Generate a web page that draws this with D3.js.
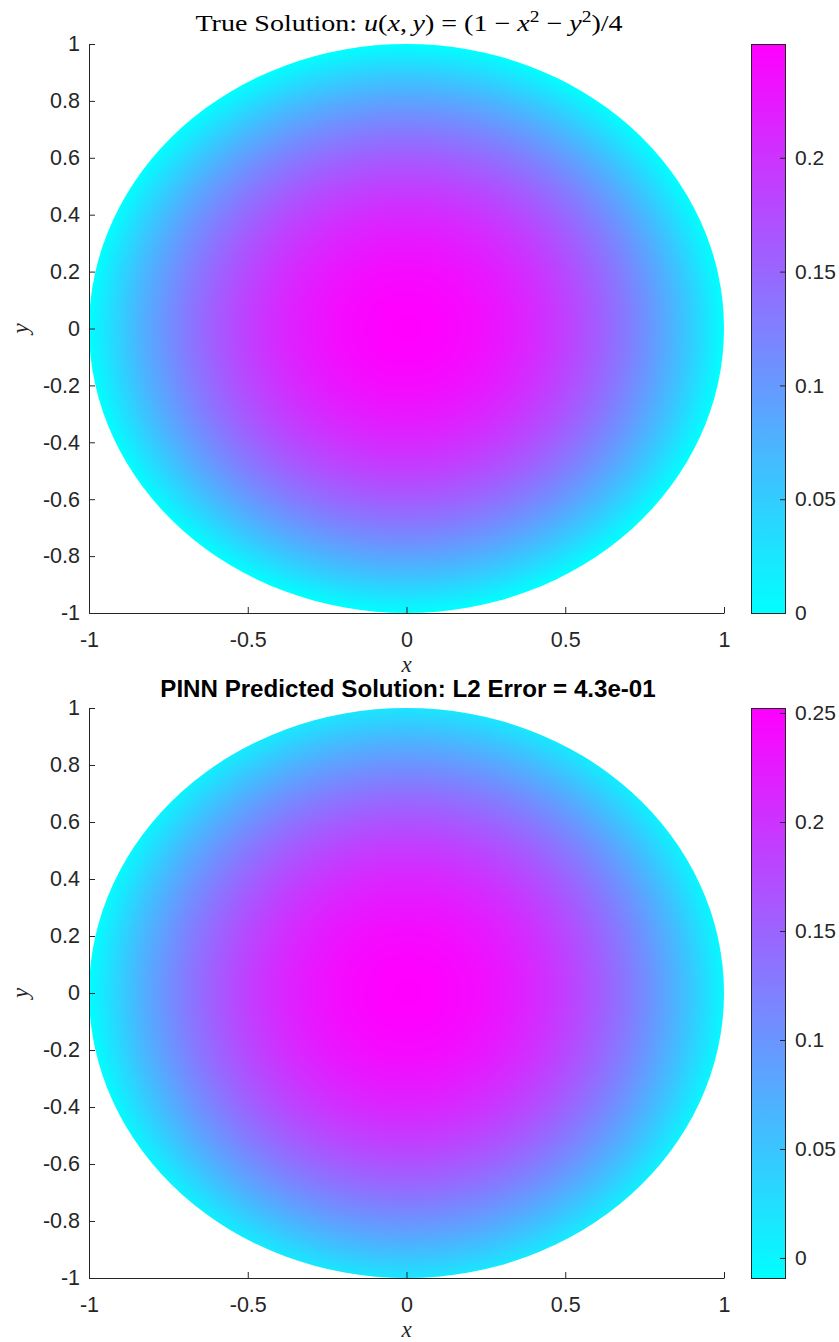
<!DOCTYPE html>
<html><head><meta charset="utf-8">
<script src="https://cdn.jsdelivr.net/npm/d3@7"></script>
<style>body{margin:0;background:#fff}svg{display:block}</style></head>
<body><svg id="chart" width="839" height="1342"></svg>
<script>
// ---------------- data ----------------
const xTicks = [-1, -0.5, 0, 0.5, 1];
const yTicks = [-1, -0.8, -0.6, -0.4, -0.2, 0, 0.2, 0.4, 0.6, 0.8, 1];
const gridX = [-1, -0.75, -0.5, -0.25, 0, 0.25, 0.5, 0.75, 1];
const gridY = [-1, -0.75, -0.5, -0.25, 0, 0.25, 0.5, 0.75, 1];
// rows follow gridY (y = -1 ... 1), columns follow gridX
const trueU = [
  [-0.25, -0.140625, -0.0625, -0.015625, 0, -0.015625, -0.0625, -0.140625, -0.25],
  [-0.140625, -0.03125, 0.046875, 0.09375, 0.109375, 0.09375, 0.046875, -0.03125, -0.140625],
  [-0.0625, 0.046875, 0.125, 0.171875, 0.1875, 0.171875, 0.125, 0.046875, -0.0625],
  [-0.015625, 0.09375, 0.171875, 0.21875, 0.234375, 0.21875, 0.171875, 0.09375, -0.015625],
  [0, 0.109375, 0.1875, 0.234375, 0.25, 0.234375, 0.1875, 0.109375, 0],
  [-0.015625, 0.09375, 0.171875, 0.21875, 0.234375, 0.21875, 0.171875, 0.09375, -0.015625],
  [-0.0625, 0.046875, 0.125, 0.171875, 0.1875, 0.171875, 0.125, 0.046875, -0.0625],
  [-0.140625, -0.03125, 0.046875, 0.09375, 0.109375, 0.09375, 0.046875, -0.03125, -0.140625],
  [-0.25, -0.140625, -0.0625, -0.015625, 0, -0.015625, -0.0625, -0.140625, -0.25]
];
const predU = [
  [-0.2442, -0.1298, -0.0481, 0.0010, 0.0173, 0.0014, -0.0465, -0.1261, -0.2377],
  [-0.1414, -0.0270, 0.0547, 0.1038, 0.1201, 0.1042, 0.0563, -0.0233, -0.1349],
  [-0.0680, 0.0464, 0.1281, 0.1772, 0.1935, 0.1776, 0.1297, 0.0501, -0.0615],
  [-0.0239, 0.0905, 0.1722, 0.2213, 0.2376, 0.2217, 0.1738, 0.0942, -0.0174],
  [-0.0092, 0.1052, 0.1869, 0.2360, 0.2523, 0.2364, 0.1885, 0.1089, -0.0027],
  [-0.0239, 0.0905, 0.1722, 0.2213, 0.2376, 0.2217, 0.1738, 0.0942, -0.0174],
  [-0.0680, 0.0464, 0.1281, 0.1772, 0.1935, 0.1776, 0.1297, 0.0501, -0.0615],
  [-0.1414, -0.0270, 0.0547, 0.1038, 0.1201, 0.1042, 0.0563, -0.0233, -0.1349],
  [-0.2442, -0.1298, -0.0481, 0.0010, 0.0173, 0.0014, -0.0465, -0.1261, -0.2377]
];
const trueRange = [0, 0.25];
const predRange = [-0.0092, 0.2523];
const trueCbTicks = [0, 0.05, 0.1, 0.15, 0.2];
const predCbTicks = [0, 0.05, 0.1, 0.15, 0.2, 0.25];
const predTitle = "PINN Predicted Solution: L2 Error = 4.3e-01";

// ---------------- helpers ----------------
const svg = d3.select('#chart');
const INK = '#262626';
const cool = t => [Math.round(255 * t), Math.round(255 * (1 - t)), 255];
const fmt = d => String(Math.round(d * 1000) / 1000);

function makeSampler(grid) {
  const n = gridX.length;
  const P = [];
  for (let j = -1; j <= n; j++) {
    const row = [];
    for (let i = -1; i <= n; i++) row.push(0);
    P.push(row);
  }
  const get = (i, j) => grid[j][i];
  for (let j = 0; j < n; j++) {
    for (let i = 0; i < n; i++) P[j + 1][i + 1] = get(i, j);
    P[j + 1][0] = 3 * get(0, j) - 3 * get(1, j) + get(2, j);
    P[j + 1][n + 1] = 3 * get(n - 1, j) - 3 * get(n - 2, j) + get(n - 3, j);
  }
  for (let i = 0; i < n + 2; i++) {
    P[0][i] = 3 * P[1][i] - 3 * P[2][i] + P[3][i];
    P[n + 1][i] = 3 * P[n][i] - 3 * P[n - 1][i] + P[n - 2][i];
  }
  const h = gridX[1] - gridX[0];
  const w = t => [(-t * t * t + 2 * t * t - t) / 2, (3 * t * t * t - 5 * t * t + 2) / 2,
                  (-3 * t * t * t + 4 * t * t + t) / 2, (t * t * t - t * t) / 2];
  return (x, y) => {
    let gx = (x - gridX[0]) / h, gy = (y - gridY[0]) / h;
    let i = Math.max(0, Math.min(n - 2, Math.floor(gx)));
    let j = Math.max(0, Math.min(n - 2, Math.floor(gy)));
    const wx = w(gx - i), wy = w(gy - j);
    let v = 0;
    for (let b = 0; b < 4; b++) {
      const row = P[j + b];
      let s = 0;
      for (let a = 0; a < 4; a++) s += wx[a] * row[i + a];
      v += wy[b] * s;
    }
    return v;
  };
}

function drawPanel(cfg) {
  const x = d3.scaleLinear([-1, 1], [89, 724]);
  const y = d3.scaleLinear([-1, 1], [cfg.bottom, cfg.top]);
  const g = svg.append('g');
  const W = Math.round(x(1) - x(-1)), H = Math.round(y(-1) - y(1));
  const canvas = document.createElement('canvas');
  canvas.width = W; canvas.height = H;
  const ctx = canvas.getContext('2d');
  const img = ctx.createImageData(W, H);
  const f = makeSampler(cfg.field);
  const cs = d3.scaleLinear(cfg.range, [0, 1]).clamp(true);
  for (let py = 0; py < H; py++) {
    const yy = y.invert(y(1) + py + 0.5);
    for (let px = 0; px < W; px++) {
      const xx = x.invert(x(-1) + px + 0.5);
      const c = cool(cs(f(xx, yy)));
      const k = 4 * (py * W + px);
      img.data[k] = c[0]; img.data[k + 1] = c[1]; img.data[k + 2] = c[2]; img.data[k + 3] = 255;
    }
  }
  ctx.putImageData(img, 0, 0);
  const clipId = 'clip' + cfg.id;
  svg.append('clipPath').attr('id', clipId).append('ellipse')
    .attr('cx', x(0)).attr('cy', y(0))
    .attr('rx', (x(1) - x(-1)) / 2).attr('ry', (y(-1) - y(1)) / 2);
  g.append('image').attr('href', canvas.toDataURL())
    .attr('x', x(-1)).attr('y', y(1)).attr('width', W).attr('height', H)
    .attr('preserveAspectRatio', 'none').attr('clip-path', `url(#${clipId})`);

  const ax = g.append('g').attr('transform', `translate(0,${cfg.bottom})`)
    .call(d3.axisBottom(x).tickValues(xTicks).tickFormat(fmt).tickSize(-6).tickSizeOuter(0).tickPadding(19));
  const ay = g.append('g').attr('transform', `translate(89,0)`)
    .call(d3.axisLeft(y).tickValues(yTicks).tickFormat(fmt).tickSize(-6).tickSizeOuter(0).tickPadding(9));
  [ax, ay].forEach(a => {
    a.selectAll('path,line').attr('stroke', INK);
    a.selectAll('text').attr('fill', INK).style('font-family', 'Liberation Sans, Arial, sans-serif').style('font-size', '21.5px');
  });

  g.append('text').attr('x', x(0)).attr('y', cfg.bottom + 59).attr('text-anchor', 'middle')
    .style('font-family', 'Liberation Serif, serif').style('font-style', 'italic').style('font-size', '23px')
    .attr('fill', INK).text('x');
  g.append('text').attr('transform', `translate(28,${y(0)}) rotate(-90)`).attr('text-anchor', 'middle')
    .style('font-family', 'Liberation Serif, serif').style('font-style', 'italic').style('font-size', '23px')
    .attr('fill', INK).text('y');

  const cb = d3.scaleLinear(cfg.range, [cfg.bottom, cfg.top]);
  const gid = 'grad' + cfg.id;
  const grad = svg.append('linearGradient').attr('id', gid).attr('x1', 0).attr('x2', 0).attr('y1', 1).attr('y2', 0);
  d3.range(0, 1.0001, 0.1).forEach(t => {
    const c = cool(t);
    grad.append('stop').attr('offset', t).attr('stop-color', `rgb(${c[0]},${c[1]},${c[2]})`);
  });
  g.append('rect').attr('x', 751.5).attr('y', cfg.top + 0.5).attr('width', 34).attr('height', cfg.bottom - cfg.top)
    .attr('fill', `url(#${gid})`).attr('stroke', INK).attr('stroke-width', 1);
  const acb = g.append('g').attr('transform', 'translate(785,0)')
    .call(d3.axisRight(cb).tickValues(cfg.cbTicks).tickFormat(fmt).tickSize(-5).tickSizeOuter(0).tickPadding(10));
  acb.select('path.domain').remove();
  acb.selectAll('line').attr('stroke', INK);
  acb.selectAll('text').attr('fill', INK).style('font-family', 'Liberation Sans, Arial, sans-serif').style('font-size', '21px');

  cfg.titleFn(g, x(0));
}

function fit(sel, cx, yb, targetW) {
  const bb = sel.node().getBBox();
  sel.attr('transform', `translate(${cx},${yb}) scale(${targetW / bb.width},1)`);
}

drawPanel({
  id: 1, top: 44, bottom: 613, field: trueU, range: trueRange, cbTicks: trueCbTicks,
  titleFn: (g, cx) => {
    const t = g.append('text').attr('text-anchor', 'middle').attr('fill', '#000')
      .style('font-family', 'Liberation Serif, serif').style('font-size', '23px');
    const parts = [
      ['True Solution:  ', false], ['u', true], ['(', false], ['x', true], [',\u2009', false], ['y', true],
      [') = (1 \u2212 ', false], ['x', true], ['2', 'sup'], [' \u2212 ', false], ['y', true], ['2', 'sup'], [')/4', false]
    ];
    let lastSup = false;
    parts.forEach(([s, k]) => {
      const ts = t.append('tspan').text(s);
      if (k === true) ts.style('font-style', 'italic');
      if (k === 'sup') ts.attr('dy', -9).style('font-size', '16px');
      else if (lastSup) ts.attr('dy', 9);
      lastSup = (k === 'sup');
    });
    fit(t, 409, 31, 428);
  }
});

drawPanel({
  id: 2, top: 708, bottom: 1278, field: predU, range: predRange, cbTicks: predCbTicks,
  titleFn: (g, cx) => {
    const t = g.append('text').attr('text-anchor', 'middle').attr('fill', '#000')
      .style('font-family', 'Liberation Sans, Arial, sans-serif').style('font-weight', 'bold').style('font-size', '23px')
      .text(predTitle);
    fit(t, 408, 697, 496);
  }
});
</script></body></html>
